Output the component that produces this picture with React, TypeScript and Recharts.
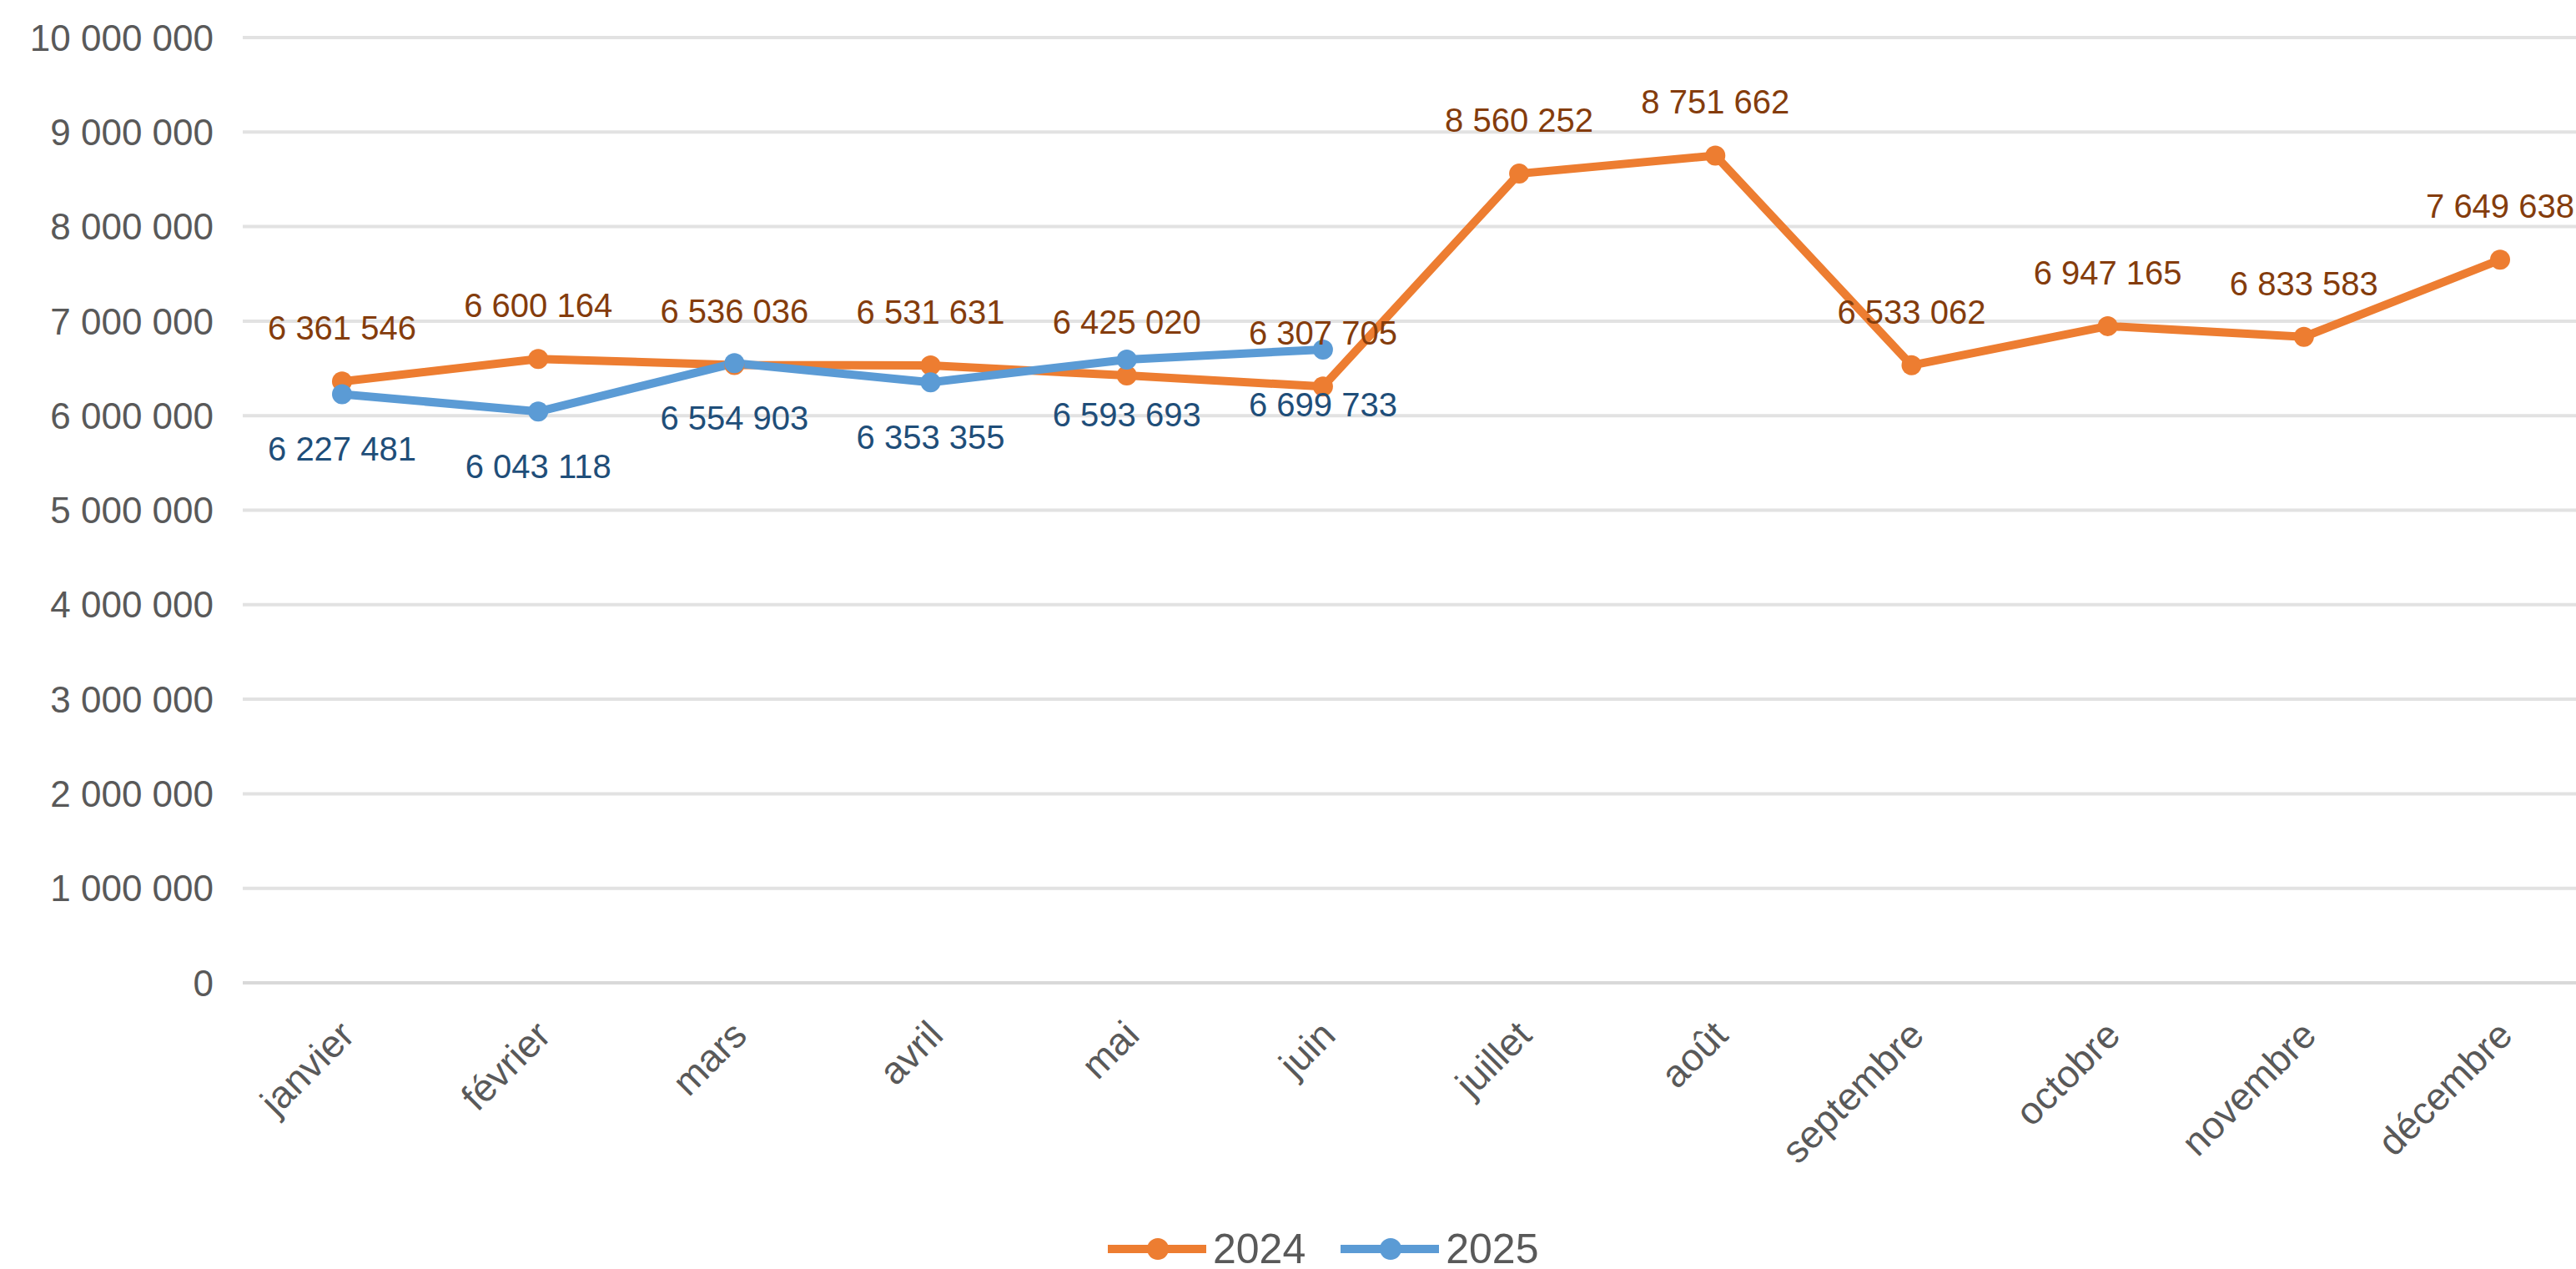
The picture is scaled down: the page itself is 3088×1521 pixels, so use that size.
import React from 'react';
import { CartesianGrid, LabelList, Legend, Line, LineChart, XAxis, YAxis } from 'recharts';

const months = ['janvier', 'février', 'mars', 'avril', 'mai', 'juin', 'juillet', 'août', 'septembre', 'octobre', 'novembre', 'décembre'];
const sales2024 = [6361546, 6600164, 6536036, 6531631, 6425020, 6307705, 8560252, 8751662, 6533062, 6947165, 6833583, 7649638];
const sales2025 = [6227481, 6043118, 6554903, 6353355, 6593693, 6699733];
const yTicks = [0, 1000000, 2000000, 3000000, 4000000, 5000000, 6000000, 7000000, 8000000, 9000000, 10000000];

const data = months.map((m, i) => ({
  month: m,
  y2024: sales2024[i],
  y2025: i < sales2025.length ? sales2025[i] : null,
}));

const FONT = '"Liberation Sans", Arial, sans-serif';
const ORANGE = '#ED7D31';
const BLUE = '#5B9BD5';

const fmt = (v: number) => String(v).replace(/\B(?=(\d{3})+(?!\d))/g, ' ');

const MonthTick = (props: any) => {
  const { x, y, payload } = props;
  return (
    <text
      transform={`translate(${x + 6},${y + 46}) rotate(-45)`}
      textAnchor="end"
      dy="0.35em"
      fontSize={46}
      fontFamily={FONT}
      fill="#595959"
    >
      {payload.value}
    </text>
  );
};

const makeLabel = (color: string, dy: number) => (props: any) => {
  const { x, y, value } = props;
  if (value == null) return null;
  return (
    <text x={x} y={y + dy} textAnchor="middle" dominantBaseline="central" fontSize={40} fontFamily={FONT} fill={color}>
      {fmt(value)}
    </text>
  );
};

const LegendContent = () => {
  const items = [
    { name: '2024', color: ORANGE },
    { name: '2025', color: BLUE },
  ];
  return (
    <div style={{ display: 'flex', alignItems: 'center', height: 48 }}>
      {items.map((it) => (
        <div key={it.name} style={{ display: 'flex', alignItems: 'center', marginRight: 42 }}>
          <svg width={118} height={40}>
            <line x1={0} y1={20} x2={118} y2={20} stroke={it.color} strokeWidth={10} />
            <circle cx={60} cy={20} r={13} fill={it.color} />
          </svg>
          <span style={{ fontFamily: FONT, fontSize: 50, color: '#595959', marginLeft: 8, lineHeight: '48px' }}>{it.name}</span>
        </div>
      ))}
    </div>
  );
};

export default function App() {
  return (
    <div style={{ position: 'absolute', left: 0, top: 0, width: 3088, height: 1521, background: '#fff' }}>
      <LineChart width={3088} height={1521} data={data} margin={{ top: 45, right: 0, bottom: 0, left: 0 }}>
        <CartesianGrid vertical={false} stroke="#e2e2e2" strokeWidth={4} />
        <XAxis
          dataKey="month"
          interval={0}
          height={295}
          padding={{ left: 119, right: 91 }}
          tickLine={false}
          axisLine={{ stroke: '#d9d9d9', strokeWidth: 4 }}
          tick={<MonthTick />}
        />
        <YAxis
          width={291}
          domain={[0, 10000000]}
          ticks={yTicks}
          tickFormatter={fmt}
          axisLine={false}
          tickLine={false}
          tickMargin={29}
          tick={{ fill: '#595959', fontSize: 44, fontFamily: FONT }}
        />
        <Legend
          verticalAlign="bottom"
          content={<LegendContent />}
          wrapperStyle={{ left: 1328, bottom: 0, width: 700, height: 48 }}
        />
        <Line
          type="linear"
          dataKey="y2024"
          name="2024"
          stroke={ORANGE}
          strokeWidth={10}
          strokeLinejoin="round"
          dot={{ r: 12, fill: ORANGE, stroke: ORANGE, strokeWidth: 0 }}
          activeDot={false}
          isAnimationActive={false}
        >
          <LabelList dataKey="y2024" content={makeLabel('#843C0C', -64)} />
        </Line>
        <Line
          type="linear"
          dataKey="y2025"
          name="2025"
          stroke={BLUE}
          strokeWidth={10}
          strokeLinejoin="round"
          dot={{ r: 12, fill: BLUE, stroke: BLUE, strokeWidth: 0 }}
          activeDot={false}
          isAnimationActive={false}
        >
          <LabelList dataKey="y2025" content={makeLabel('#1F4E79', 66)} />
        </Line>
      </LineChart>
    </div>
  );
}
